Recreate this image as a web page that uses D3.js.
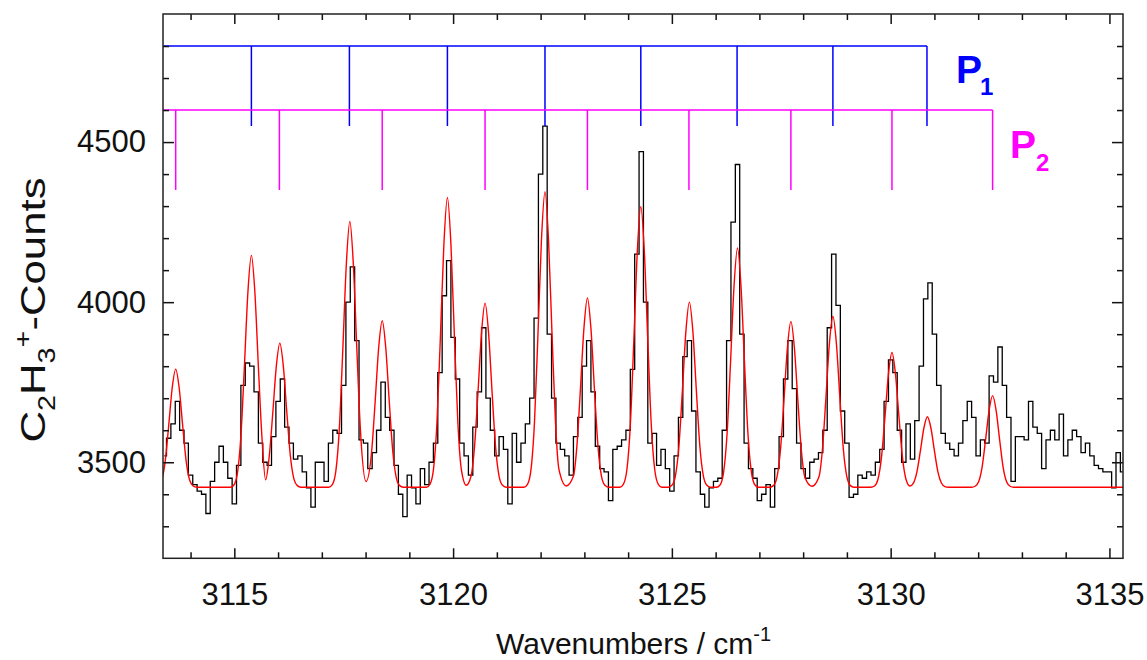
<!DOCTYPE html>
<html>
<head>
<meta charset="utf-8">
<script src="https://cdn.jsdelivr.net/npm/d3@7"></script>
<style>
  body { margin: 0; background: #fff; }
  text { font-family: "Liberation Sans", Arial, sans-serif; }
</style>
</head>
<body>
<svg id="chart" width="1147" height="660"></svg>
<script>
// measured spectrum, 0.1 cm-1 bins starting at 3113.4
var specStart = 3113.4, specStep = 0.1;
var counts = [
  3520, 3575, 3620, 3690, 3600, 3560, 3460, 3430, 3410, 3400,
  3340, 3440, 3500, 3550, 3500, 3450, 3370, 3490, 3740, 3810,
  3800, 3720, 3560, 3500, 3490, 3580, 3690, 3760, 3610, 3560,
  3510, 3520, 3470, 3420, 3360, 3500, 3500,
  3440, 3560, 3600, 3590, 3740, 4000, 4110, 3880, 3570, 3560,
  3480, 3530, 3600, 3750, 3640, 3600, 3490, 3400, 3330, 3460,
  3420, 3370, 3480, 3430, 3500, 3560, 3780, 4020, 4130, 3890,
  3760, 3560, 3520, 3460, 3610, 3720, 3920,
  3700, 3600, 3520, 3580, 3540, 3370, 3590, 3500, 3560, 3620,
  3700, 3950, 4400, 4550, 3900, 3700, 3560, 3540, 3520, 3460,
  3580, 3640, 3800, 3880, 3720, 3550, 3480, 3470, 3380, 3540,
  3550, 3570, 3600, 3790, 4150, 4470, 4000,
  3560, 3590, 3490, 3540, 3480, 3410, 3520, 3640, 3830, 3880,
  3660, 3470, 3400, 3360, 3420, 3440, 3450, 3600, 3880, 4250,
  4430, 3900, 3560, 3480, 3450, 3380, 3400, 3430, 3360, 3480,
  3580, 3760, 3880, 3730, 3560, 3480,
  3450, 3500, 3510, 3530, 3600, 3920, 4150, 3990, 3660, 3560,
  3390, 3400, 3460, 3450, 3470, 3460, 3500, 3540, 3690, 3820,
  3780, 3600, 3500, 3620, 3510, 3630, 3800, 4010, 4060, 3900,
  3740, 3590, 3560, 3540, 3520, 3560, 3630,
  3690, 3640, 3520, 3570, 3560, 3770, 3750, 3860, 3740, 3640,
  3440, 3580, 3580, 3570, 3690, 3610, 3590, 3480, 3570, 3600,
  3570, 3650, 3520, 3570, 3600, 3580, 3530, 3560, 3520, 3490,
  3480, 3470, 3470, 3420, 3530, 3470
];

// simulated (fit) spectrum
var fitWn = [
  3113.26, 3113.34, 3113.42, 3113.50, 3113.58, 3113.66, 3113.74, 3113.82, 3113.90, 3113.98, 3114.06, 3114.14,
  3114.91, 3114.99, 3115.07, 3115.15, 3115.23, 3115.31, 3115.39, 3115.47, 3115.55, 3115.63, 3115.715,
  3115.80, 3115.88, 3115.96, 3116.04, 3116.12, 3116.20, 3116.28, 3116.36, 3116.44, 3116.52,
  3117.16, 3117.24, 3117.32, 3117.40, 3117.48, 3117.56, 3117.64, 3117.72, 3117.80, 3117.88, 3118.01,
  3118.14, 3118.22, 3118.30, 3118.38, 3118.46, 3118.54, 3118.62, 3118.70, 3118.78, 3118.86,
  3119.39, 3119.47, 3119.55, 3119.63, 3119.71, 3119.79, 3119.87, 3119.95, 3120.03, 3120.11, 3120.19, 3120.30,
  3120.41, 3120.49, 3120.57, 3120.65, 3120.73, 3120.81, 3120.89, 3120.97, 3121.05, 3121.13, 3121.21,
  3121.62, 3121.70, 3121.78, 3121.86, 3121.94, 3122.02, 3122.10, 3122.18, 3122.26, 3122.34, 3122.42, 3122.585,
  3122.75, 3122.83, 3122.91, 3122.99, 3123.07, 3123.15, 3123.23, 3123.31, 3123.39, 3123.47, 3123.55,
  3123.81, 3123.89, 3123.97, 3124.05, 3124.13, 3124.21, 3124.29, 3124.37, 3124.45, 3124.53, 3124.61, 3124.69, 3124.77,
  3124.92, 3125.00, 3125.08, 3125.16, 3125.24, 3125.32, 3125.40, 3125.48, 3125.56, 3125.64, 3125.72, 3125.80, 3125.88,
  3126.02, 3126.10, 3126.18, 3126.26, 3126.34, 3126.42, 3126.50, 3126.58, 3126.66, 3126.74, 3126.82, 3126.90, 3126.98,
  3127.24, 3127.32, 3127.40, 3127.48, 3127.56, 3127.64, 3127.72, 3127.80, 3127.88, 3127.96, 3128.04, 3128.20,
  3128.36, 3128.44, 3128.52, 3128.60, 3128.68, 3128.76, 3128.84, 3128.92, 3129.00, 3129.08, 3129.16,
  3129.55, 3129.63, 3129.71, 3129.79, 3129.87, 3129.95, 3130.03, 3130.11, 3130.19, 3130.27, 3130.35, 3130.44,
  3130.52, 3130.60, 3130.68, 3130.76, 3130.84, 3130.92, 3131.00, 3131.08, 3131.16, 3131.24, 3131.32,
  3131.85, 3131.93, 3132.01, 3132.09, 3132.17, 3132.25, 3132.33, 3132.41, 3132.49, 3132.57, 3132.65, 3132.73, 3132.81,
  3135.35
];
var fitCounts = [
  3426, 3444, 3503, 3614, 3732, 3791, 3732, 3614, 3503, 3444, 3426, 3422,
  3422, 3429, 3465, 3581, 3798, 4030, 4146, 4030, 3798, 3581, 3445,
  3521, 3656, 3800, 3872, 3800, 3656, 3521, 3449, 3427, 3422,
  3422, 3430, 3472, 3605, 3854, 4119, 4252, 4119, 3854, 3605, 3440,
  3536, 3692, 3859, 3942, 3859, 3692, 3536, 3453, 3427, 3422,
  3422, 3431, 3476, 3621, 3893, 4182, 4327, 4182, 3893, 3621, 3476, 3428,
  3457, 3549, 3721, 3905, 3997, 3905, 3721, 3549, 3457, 3428, 3422,
  3422, 3431, 3477, 3625, 3902, 4197, 4345, 4197, 3902, 3625, 3477, 3426,
  3457, 3552, 3729, 3918, 4013, 3918, 3729, 3552, 3457, 3428, 3422,
  3422, 3431, 3475, 3615, 3878, 4159, 4299, 4159, 3878, 3615, 3475, 3431, 3422,
  3422, 3428, 3457, 3549, 3723, 3908, 4000, 3908, 3723, 3549, 3457, 3428, 3422,
  3422, 3429, 3467, 3586, 3810, 4049, 4169, 4049, 3810, 3586, 3467, 3429, 3422,
  3422, 3427, 3453, 3536, 3691, 3857, 3940, 3857, 3691, 3536, 3453, 3425,
  3454, 3539, 3700, 3871, 3956, 3871, 3700, 3539, 3454, 3427, 3422,
  3422, 3426, 3447, 3515, 3641, 3776, 3843, 3776, 3641, 3515, 3447, 3426,
  3435, 3470, 3536, 3607, 3642, 3607, 3536, 3470, 3435, 3424, 3422,
  3422, 3425, 3439, 3485, 3571, 3662, 3708, 3662, 3571, 3485, 3439, 3425, 3422,
  3422
];

// line assignments (combs)
var p1Lines = [3115.39, 3117.63, 3119.87, 3122.10, 3124.29, 3126.49, 3128.68, 3130.83];
var p2Lines = [3113.66, 3116.03, 3118.38, 3120.73, 3123.07, 3125.39, 3127.72, 3130.03, 3132.33];
var p1Level = [4800, 4550];   // bar, tick end
var p2Level = [4600, 4350];

var xTicks = [3115, 3120, 3125, 3130, 3135];
var yTicks = [3500, 4000, 4500];

var svg = d3.select("#chart");
var margin = {top: 14, right: 24, bottom: 101.7, left: 163},
    width = 1147 - margin.left - margin.right,
    height = 660 - margin.top - margin.bottom;

var x = d3.scaleLinear().domain([3113.37, 3135.31]).range([margin.left, margin.left + width]);
var y = d3.scaleLinear().domain([3200, 4900]).range([margin.top + height, margin.top]);

svg.append("clipPath").attr("id", "plotclip")
  .append("rect")
    .attr("x", margin.left).attr("y", margin.top)
    .attr("width", width).attr("height", height);

var plot = svg.append("g").attr("clip-path", "url(#plotclip)");

// black measured trace as histogram steps
var spec = counts.map(function(c, i) { return [specStart + i * specStep, c]; });
plot.append("path")
  .datum(spec)
  .attr("fill", "none")
  .attr("stroke", "#000")
  .attr("stroke-width", 1.3)
  .attr("d", d3.line()
    .x(function(d) { return x(d[0]); })
    .y(function(d) { return y(d[1]); })
    .curve(d3.curveStep));

// red fit
var fit = fitWn.map(function(w, i) { return [w, fitCounts[i]]; });
plot.append("path")
  .datum(fit)
  .attr("fill", "none")
  .attr("stroke", "#ff0000")
  .attr("stroke-width", 1.4)
  .attr("d", d3.line()
    .x(function(d) { return x(d[0]); })
    .y(function(d) { return y(d[1]); })
    .curve(d3.curveMonotoneX));

// combs
function comb(lines, level, color) {
  var g = plot.append("g").attr("stroke", color).attr("stroke-width", 1.5);
  g.append("line")
    .attr("x1", x.range()[0]).attr("x2", x(d3.max(lines)))
    .attr("y1", y(level[0])).attr("y2", y(level[0]));
  g.selectAll("line.tick")
    .data(lines)
    .enter().append("line")
      .attr("class", "tick")
      .attr("x1", function(d) { return x(d); })
      .attr("x2", function(d) { return x(d); })
      .attr("y1", y(level[0]))
      .attr("y2", y(level[1]));
}
comb(p1Lines, p1Level, "#0000ff");
comb(p2Lines, p2Level, "#ff00ff");

// axes, ticks pointing inward on all four sides
var xMinor = d3.range(3114, 3136, 1).filter(function(d) { return xTicks.indexOf(d) < 0; });
var yMinor = d3.range(3300, 4900, 100).filter(function(d) { return yTicks.indexOf(d) < 0; });

function styleAxis(g) {
  g.select(".domain").remove();
  g.selectAll(".tick line").attr("stroke", "#111").attr("stroke-width", 1.5);
  g.attr("font-size", 31).attr("font-family", "Liberation Sans, Arial, sans-serif");
  g.selectAll(".tick text").attr("fill", "#111");
}

var bottomY = margin.top + height, rightX = margin.left + width;

svg.append("g").attr("transform", "translate(0," + bottomY + ")")
  .call(d3.axisBottom(x).tickValues(xMinor).tickSize(-6).tickFormat("")).call(styleAxis);
svg.append("g").attr("transform", "translate(0," + bottomY + ")")
  .call(d3.axisBottom(x).tickValues(xTicks).tickSize(-10).tickPadding(25).tickFormat(d3.format("d"))).call(styleAxis);
svg.append("g").attr("transform", "translate(0," + margin.top + ")")
  .call(d3.axisTop(x).tickValues(xMinor).tickSize(-6).tickFormat("")).call(styleAxis);
svg.append("g").attr("transform", "translate(0," + margin.top + ")")
  .call(d3.axisTop(x).tickValues(xTicks).tickSize(-10).tickFormat("")).call(styleAxis);

svg.append("g").attr("transform", "translate(" + margin.left + ",0)")
  .call(d3.axisLeft(y).tickValues(yMinor).tickSize(-6).tickFormat("")).call(styleAxis);
svg.append("g").attr("transform", "translate(" + margin.left + ",0)")
  .call(d3.axisLeft(y).tickValues(yTicks).tickSize(-11).tickPadding(17).tickFormat(d3.format("d"))).call(styleAxis);
svg.append("g").attr("transform", "translate(" + rightX + ",0)")
  .call(d3.axisRight(y).tickValues(yMinor).tickSize(-6).tickFormat("")).call(styleAxis);
svg.append("g").attr("transform", "translate(" + rightX + ",0)")
  .call(d3.axisRight(y).tickValues(yTicks).tickSize(-11).tickFormat("")).call(styleAxis);

// frame
svg.append("rect")
  .attr("x", margin.left).attr("y", margin.top)
  .attr("width", width).attr("height", height)
  .attr("fill", "none").attr("stroke", "#222").attr("stroke-width", 1.5);

// P1 / P2 labels
var p1 = svg.append("text").attr("x", 956).attr("y", 83)
  .attr("fill", "#0000ff").attr("font-weight", "bold").attr("font-size", 39);
p1.append("tspan").text("P");
p1.append("tspan").attr("font-size", 24).attr("dy", 12).attr("dx", -2).text("1");

var p2 = svg.append("text").attr("x", 1010).attr("y", 158.3)
  .attr("fill", "#ff00ff").attr("font-weight", "bold").attr("font-size", 39);
p2.append("tspan").text("P");
p2.append("tspan").attr("font-size", 24).attr("dy", 12.4).text("2");

// axis titles
var xt = svg.append("text").attr("x", 496).attr("y", 654)
  .attr("font-size", 30).attr("fill", "#111");
xt.append("tspan").text("Wavenumbers / cm");
xt.append("tspan").attr("font-size", 20).attr("dy", -13).text("-1");

// y title is a little stretched along its length in the original
var yt = svg.append("text")
  .attr("transform", "translate(45,310) rotate(-90) scale(1.25,1)")
  .attr("text-anchor", "middle")
  .attr("font-size", 35).attr("fill", "#111");
yt.append("tspan").text("C");
yt.append("tspan").attr("font-size", 23).attr("dy", 10).text("2");
yt.append("tspan").attr("dy", -10).text("H");
yt.append("tspan").attr("font-size", 23).attr("dy", 10).text("3");
yt.append("tspan").attr("font-size", 23).attr("dy", -24).text("+");
yt.append("tspan").attr("dy", 14).text("-Counts");
</script>
</body>
</html>
